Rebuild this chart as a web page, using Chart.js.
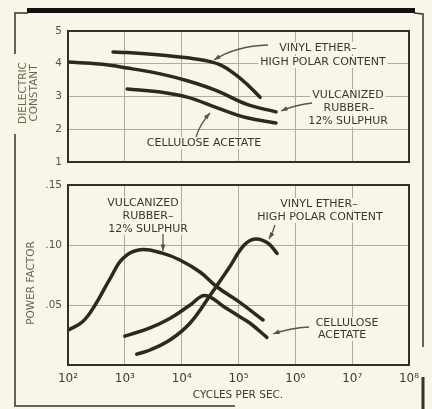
<!DOCTYPE html>
<html>
<head>
<meta charset="utf-8">
<script src="https://cdn.jsdelivr.net/npm/chart.js@4.4.1/dist/chart.umd.min.js"></script>
<style>
  html, body { margin: 0; padding: 0; background: #f8f6e9; }
  #wrap { position: relative; width: 432px; height: 409px; overflow: hidden; }
  canvas { position: absolute; left: 0; top: 0; }
</style>
</head>
<body>
<div id="wrap">
  <canvas id="dielectric" width="432" height="409"></canvas>
  <canvas id="power" width="432" height="409"></canvas>
</div>
<script>
// x axis: cycles per second, decades 10^2 .. 10^8
const decades = [1e2, 1e3, 1e4, 1e5, 1e6, 1e7, 1e8];
const dcTicks = [1, 2, 3, 4, 5];
const pfTicks = [0, 0.05, 0.10, 0.15];

// dielectric constant curves
const vinylDcFreq = [620, 1100, 4200, 12600, 26000, 50000, 90000, 150000, 240000];
const vinylDcVal = [4.36, 4.34, 4.27, 4.18, 4.10, 3.95, 3.66, 3.33, 2.98];
const rubberDcFreq = [100, 360, 1100, 4200, 12600, 41000, 141000, 457000];
const rubberDcVal = [4.05, 3.99, 3.87, 3.69, 3.48, 3.18, 2.76, 2.53];
const acetateDcFreq = [1100, 4200, 12600, 41000, 141000, 457000];
const acetateDcVal = [3.23, 3.14, 2.98, 2.66, 2.35, 2.19];

// power factor curves
const rubberPfFreq = [100, 180, 300, 550, 930, 1860, 4700, 9300, 21000, 42000, 107000, 270000];
const rubberPfVal = [0.029, 0.036, 0.050, 0.072, 0.089, 0.096, 0.093, 0.0875, 0.0775, 0.065, 0.052, 0.0375];
const vinylPfFreq = [1620, 2780, 6300, 14100, 31600, 66000, 126000, 200000, 331000, 478000];
const vinylPfVal = [0.009, 0.0125, 0.021, 0.035, 0.058, 0.080, 0.100, 0.105, 0.1015, 0.093];
const acetatePfFreq = [1000, 2780, 6300, 14100, 25700, 58000, 107000, 158000, 316000];
const acetatePfVal = [0.024, 0.031, 0.039, 0.050, 0.058, 0.048, 0.040, 0.035, 0.023];

const INK = '#2a2a20';
const GRID = '#aeac9a';
const PAPER = '#f8f6e9';
const FONT = '"DejaVu Sans", sans-serif';
const sup = { 2: '\u00b2', 3: '\u00b3', 4: '\u2074', 5: '\u2075', 6: '\u2076', 7: '\u2077', 8: '\u2078' };

function series(freq, val) {
    return {
        data: freq.map((f, i) => ({ x: f, y: val[i] })),
        showLine: true,
        borderColor: INK,
        borderWidth: 3.5,
        pointRadius: 0,
        tension: 0.4,
        borderCapStyle: 'round',
        borderJoinStyle: 'round'
    };
}

function label(ctx, text, x, y, size) {
    ctx.font = (size || 11) + 'px ' + FONT;
    const w = ctx.measureText(text).width;
    ctx.fillStyle = PAPER;
    ctx.fillRect(x - w / 2 - 2, y - 6, w + 4, 12);
    ctx.fillStyle = '#38382c';
    ctx.textAlign = 'center';
    ctx.textBaseline = 'middle';
    ctx.fillText(text, x, y);
}

function arrow(ctx, x0, y0, cx, cy, x1, y1) {
    ctx.strokeStyle = '#55554a';
    ctx.fillStyle = '#55554a';
    ctx.lineWidth = 1.3;
    ctx.beginPath();
    ctx.moveTo(x0, y0);
    ctx.quadraticCurveTo(cx, cy, x1, y1);
    ctx.stroke();
    const a = Math.atan2(y1 - cy, x1 - cx);
    ctx.beginPath();
    ctx.moveTo(x1, y1);
    ctx.lineTo(x1 - 7 * Math.cos(a - 0.35), y1 - 7 * Math.sin(a - 0.35));
    ctx.lineTo(x1 - 7 * Math.cos(a + 0.35), y1 - 7 * Math.sin(a + 0.35));
    ctx.closePath();
    ctx.fill();
}

function frame(chart) {
    const a = chart.chartArea;
    const ctx = chart.ctx;
    ctx.save();
    ctx.strokeStyle = '#303026';
    ctx.lineWidth = 2;
    ctx.strokeRect(a.left, a.top, a.right - a.left, a.bottom - a.top);
    ctx.restore();
}

function rotated(ctx, text, x, y, color) {
    ctx.save();
    ctx.translate(x, y);
    ctx.rotate(-Math.PI / 2);
    ctx.font = '10.5px ' + FONT;
    ctx.fillStyle = color;
    ctx.textAlign = 'center';
    ctx.textBaseline = 'middle';
    ctx.fillText(text, 0, 0);
    ctx.restore();
}

function logX(hideTicks) {
    return {
        type: 'logarithmic',
        min: 1e2,
        max: 1e8,
        afterBuildTicks: s => { s.ticks = decades.map(v => ({ value: v })); },
        grid: { color: GRID, lineWidth: 1, drawTicks: false },
        border: { display: false },
        ticks: {
            display: !hideTicks,
            autoSkip: false,
            maxRotation: 0,
            padding: 7,
            color: '#3c3c32',
            font: { family: FONT, size: 12 },
            callback: v => '10' + sup[Math.round(Math.log10(v))]
        }
    };
}

const dielectricNotes = {
    id: 'dielectricNotes',
    afterDatasetsDraw(chart) {
        const ctx = chart.ctx;
        frame(chart);
        ctx.save();
        label(ctx, 'VINYL ETHER\u2013', 318, 48);
        label(ctx, 'HIGH POLAR CONTENT', 323, 62);
        label(ctx, 'VULCANIZED', 348, 95);
        label(ctx, 'RUBBER\u2013', 349, 108);
        label(ctx, '12% SULPHUR', 348, 121);
        label(ctx, 'CELLULOSE ACETATE', 204, 143);
        arrow(ctx, 268, 45, 236, 46, 214, 60);
        arrow(ctx, 312, 103, 295, 105, 281, 111);
        arrow(ctx, 196, 137, 200, 124, 210, 113);
        rotated(ctx, 'DIELECTRIC', 23, 93, '#6e6450');
        rotated(ctx, 'CONSTANT', 34, 93, '#6e6450');
        ctx.restore();
    }
};

const powerNotes = {
    id: 'powerNotes',
    afterDatasetsDraw(chart) {
        const ctx = chart.ctx;
        frame(chart);
        ctx.save();
        label(ctx, 'VULCANIZED', 143, 203);
        label(ctx, 'RUBBER\u2013', 148, 216);
        label(ctx, '12% SULPHUR', 148, 229);
        label(ctx, 'VINYL ETHER\u2013', 319, 204);
        label(ctx, 'HIGH POLAR CONTENT', 320, 217);
        label(ctx, 'CELLULOSE', 347, 323);
        label(ctx, 'ACETATE', 342, 335);
        arrow(ctx, 163, 234, 163, 242, 163, 251);
        arrow(ctx, 275, 225, 273, 232, 269, 239);
        arrow(ctx, 309, 327, 290, 328, 273, 334);
        rotated(ctx, 'POWER FACTOR', 31, 283, '#66665a');
        ctx.font = '10.5px ' + FONT;
        ctx.fillStyle = '#3c3c32';
        ctx.textAlign = 'center';
        ctx.textBaseline = 'middle';
        ctx.fillText('CYCLES PER SEC.', 238, 395);

        // outer page frame
        ctx.fillStyle = '#111';
        ctx.fillRect(27, 8, 388, 5);
        ctx.strokeStyle = '#33332a';
        ctx.lineWidth = 1.5;
        ctx.beginPath();
        ctx.moveTo(15, 54); ctx.lineTo(15, 13); ctx.lineTo(28, 13);
        ctx.moveTo(414, 13); ctx.lineTo(423, 14); ctx.lineTo(423, 347);
        ctx.moveTo(15, 134); ctx.lineTo(15, 406); ctx.lineTo(235, 406);
        ctx.stroke();
        ctx.lineWidth = 3;
        ctx.beginPath();
        ctx.moveTo(423, 377); ctx.lineTo(423, 409);
        ctx.stroke();
        ctx.restore();
    }
};

new Chart(document.getElementById('dielectric'), {
    type: 'scatter',
    data: {
        datasets: [
            series(vinylDcFreq, vinylDcVal),
            series(rubberDcFreq, rubberDcVal),
            series(acetateDcFreq, acetateDcVal)
        ]
    },
    options: {
        responsive: false,
        animation: false,
        layout: { padding: { left: 0, right: 23, top: 31, bottom: 247 } },
        plugins: { legend: { display: false }, tooltip: { enabled: false } },
        scales: {
            x: Object.assign(logX(true), { afterFit: s => { s.height = 0; } }),
            y: {
                min: 1,
                max: 5,
                afterBuildTicks: s => { s.ticks = dcTicks.map(v => ({ value: v })); },
                afterFit: s => { s.width = 68; },
                grid: { color: GRID, lineWidth: 1, drawTicks: false },
                border: { display: false },
                ticks: {
                    padding: 6,
                    color: '#55554a',
                    font: { family: FONT, size: 10.5 },
                    callback: v => String(v)
                }
            }
        }
    },
    plugins: [dielectricNotes]
});

new Chart(document.getElementById('power'), {
    type: 'scatter',
    data: {
        datasets: [
            series(rubberPfFreq, rubberPfVal),
            series(vinylPfFreq, vinylPfVal),
            series(acetatePfFreq, acetatePfVal)
        ]
    },
    options: {
        responsive: false,
        animation: false,
        layout: { padding: { left: 0, right: 23, top: 185, bottom: 0 } },
        plugins: { legend: { display: false }, tooltip: { enabled: false } },
        scales: {
            x: Object.assign(logX(false), { afterFit: s => { s.height = 44; } }),
            y: {
                min: 0,
                max: 0.15,
                afterBuildTicks: s => { s.ticks = pfTicks.map(v => ({ value: v })); },
                afterFit: s => { s.width = 68; },
                grid: { color: GRID, lineWidth: 1, drawTicks: false },
                border: { display: false },
                ticks: {
                    padding: 6,
                    color: '#55554a',
                    font: { family: FONT, size: 10.5 },
                    callback: v => (v === 0 ? '' : v.toFixed(2).replace(/^0/, ''))
                }
            }
        }
    },
    plugins: [powerNotes]
});
</script>
</body>
</html>
